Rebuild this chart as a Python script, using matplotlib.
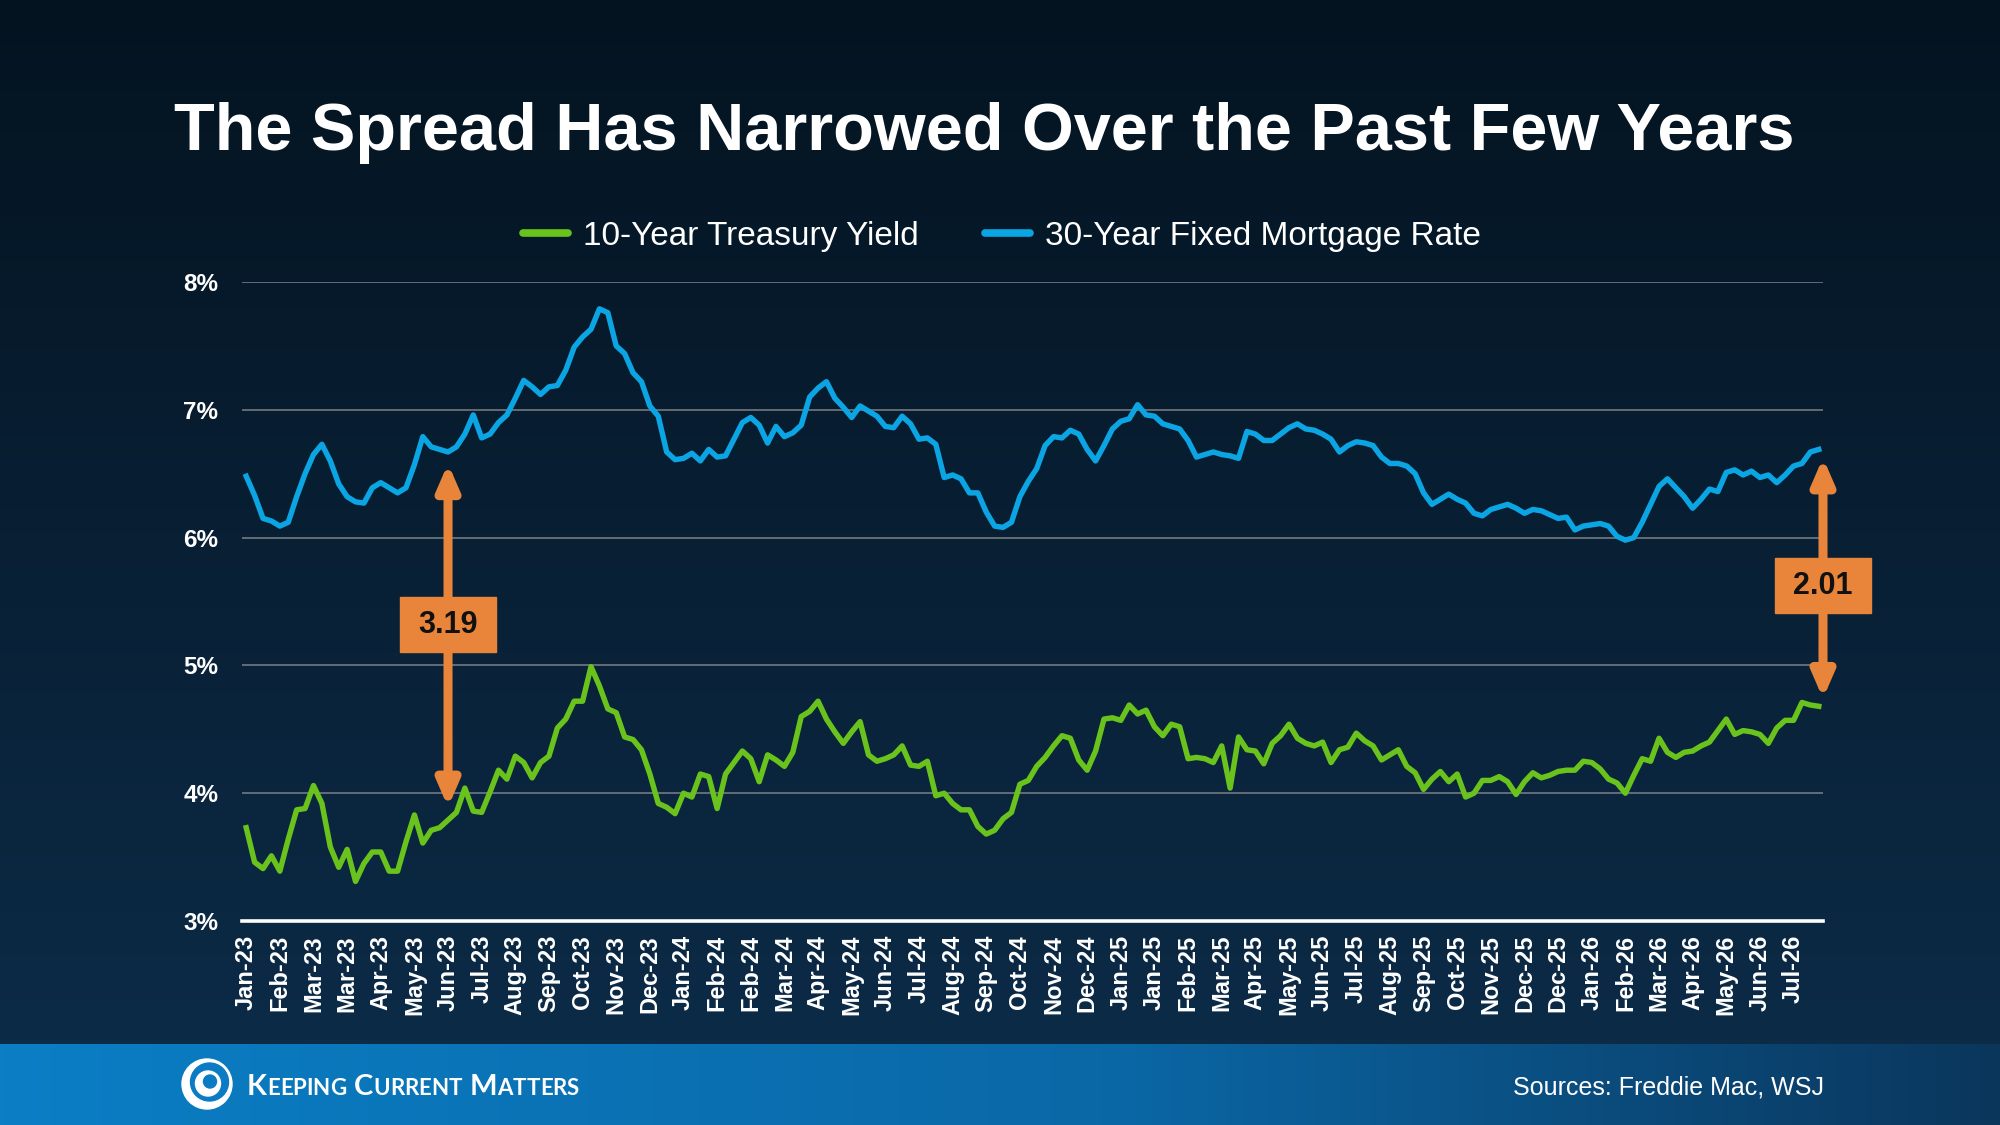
import numpy as np
import matplotlib
matplotlib.use("Agg")
import matplotlib.pyplot as plt
from matplotlib.patches import Rectangle, Circle, FancyArrowPatch
from matplotlib.lines import Line2D

plt.rcParams['font.family'] = ['Liberation Sans', 'DejaVu Sans']

# weekly data, Jan-23 .. Aug-26
month_labels = [
    'Jan-23', 'Feb-23', 'Mar-23', 'Mar-23', 'Apr-23', 'May-23', 'Jun-23', 'Jul-23',
    'Aug-23', 'Sep-23', 'Oct-23', 'Nov-23', 'Dec-23',
    'Jan-24', 'Feb-24', 'Feb-24', 'Mar-24', 'Apr-24', 'May-24', 'Jun-24', 'Jul-24',
    'Aug-24', 'Sep-24', 'Oct-24', 'Nov-24', 'Dec-24',
    'Jan-25', 'Jan-25', 'Feb-25', 'Mar-25', 'Apr-25', 'May-25', 'Jun-25', 'Jul-25',
    'Aug-25', 'Sep-25', 'Oct-25', 'Nov-25', 'Dec-25', 'Dec-25',
    'Jan-26', 'Feb-26', 'Mar-26', 'Apr-26', 'May-26', 'Jun-26', 'Jul-26',
]

mortgage_rate = [
    6.48, 6.33, 6.15, 6.13, 6.09, 6.12, 6.32, 6.50, 6.65, 6.73, 6.60, 6.42, 6.32, 6.28,
    6.27, 6.39, 6.43, 6.39, 6.35, 6.39, 6.57, 6.79, 6.71, 6.69, 6.67, 6.71, 6.81, 6.96,
    6.78, 6.81, 6.90, 6.96, 7.09, 7.23, 7.18, 7.12, 7.18, 7.19, 7.31, 7.49, 7.57, 7.63,
    7.79, 7.76, 7.50, 7.44, 7.29, 7.22, 7.03, 6.95, 6.67, 6.61,
    6.62, 6.66, 6.60, 6.69, 6.63, 6.64, 6.77, 6.90, 6.94, 6.88, 6.74, 6.87, 6.79, 6.82,
    6.88, 7.10, 7.17, 7.22, 7.09, 7.02, 6.94, 7.03, 6.99, 6.95, 6.87, 6.86, 6.95, 6.89,
    6.77, 6.78, 6.73, 6.47, 6.49, 6.46, 6.35, 6.35, 6.20, 6.09, 6.08, 6.12, 6.32, 6.44,
    6.54, 6.72, 6.79, 6.78, 6.84, 6.81, 6.69, 6.60, 6.72, 6.85,
    6.91, 6.93, 7.04, 6.96, 6.95, 6.89, 6.87, 6.85, 6.76, 6.63, 6.65, 6.67, 6.65, 6.64,
    6.62, 6.83, 6.81, 6.76, 6.76, 6.81, 6.86, 6.89, 6.85, 6.84, 6.81, 6.77, 6.67, 6.72,
    6.75, 6.74, 6.72, 6.63, 6.58, 6.58, 6.56, 6.50, 6.35, 6.26, 6.30, 6.34, 6.30, 6.27,
    6.19, 6.17, 6.22, 6.24, 6.26, 6.23, 6.19, 6.22, 6.21, 6.18, 6.15,
    6.16, 6.06, 6.09, 6.10, 6.11, 6.09, 6.01, 5.98, 6.00, 6.12, 6.26, 6.40, 6.46, 6.39,
    6.32, 6.23, 6.30, 6.38, 6.36, 6.51, 6.53, 6.49, 6.52, 6.47, 6.49, 6.43, 6.49, 6.56,
    6.58, 6.67, 6.69,
]

treasury_yield = [
    3.73, 3.46, 3.41, 3.51, 3.39, 3.64, 3.87, 3.88, 4.06, 3.92, 3.58, 3.42, 3.56, 3.31,
    3.45, 3.54, 3.54, 3.39, 3.39, 3.62, 3.83, 3.61, 3.71, 3.73, 3.79, 3.85, 4.04, 3.86,
    3.85, 4.01, 4.18, 4.11, 4.29, 4.24, 4.12, 4.24, 4.29, 4.51, 4.58, 4.72, 4.72, 4.99,
    4.84, 4.66, 4.63, 4.44, 4.42, 4.34, 4.15,
    3.92, 3.89, 3.84, 4.00, 3.97, 4.15, 4.13, 3.88, 4.15, 4.24, 4.33, 4.27, 4.09, 4.30,
    4.26, 4.21, 4.32, 4.60, 4.64, 4.72, 4.58, 4.48, 4.39, 4.48, 4.56, 4.30, 4.25, 4.27,
    4.30, 4.37, 4.22, 4.21, 4.25, 3.98, 4.00, 3.92, 3.87, 3.87, 3.74, 3.68, 3.71, 3.80,
    3.85, 4.07, 4.10, 4.21, 4.28, 4.37,
    4.45, 4.43, 4.26, 4.18, 4.33, 4.58, 4.59, 4.57, 4.69, 4.62, 4.65, 4.52, 4.45, 4.54,
    4.52, 4.27, 4.28, 4.27, 4.24, 4.37, 4.04, 4.44, 4.34, 4.33, 4.23, 4.39, 4.45, 4.54,
    4.43, 4.39, 4.37, 4.40, 4.24, 4.34, 4.36, 4.47, 4.41, 4.37, 4.26, 4.30, 4.34, 4.21,
    4.16, 4.03, 4.11, 4.17, 4.09,
    4.15, 3.97, 4.00, 4.10, 4.10, 4.13, 4.09, 3.99, 4.09, 4.16, 4.12, 4.14, 4.17, 4.18,
    4.18, 4.25, 4.24, 4.19, 4.11, 4.08, 4.00, 4.14, 4.27, 4.25, 4.43, 4.32, 4.28, 4.32,
    4.33, 4.37, 4.40, 4.49, 4.58, 4.46, 4.49, 4.48, 4.46, 4.39, 4.51, 4.57, 4.57, 4.71,
    4.69, 4.68,
]

spread_labels = ['3.19', '2.01']
spread_weeks = [24, len(mortgage_rate) - 1]

BLUE = '#0ba5e4'
GREEN = '#6ac31c'
ORANGE = '#e8853a'

W, H = 2000, 1125
fig = plt.figure(figsize=(20, 11.25), dpi=100)

# background layer in pixel coordinates
bg = fig.add_axes([0, 0, 1, 1], zorder=0)
bg.set_xlim(0, W)
bg.set_ylim(H, 0)
bg.axis('off')

top = np.array([0x04, 0x13, 0x20]) / 255
bot = np.array([0x0c, 0x2b, 0x47]) / 255
t = np.linspace(0, 1, 256)[:, None]
grad = top + (bot - top) * t
bg.imshow(grad[:, None, :], extent=(0, W, 1044, 0), aspect='auto')

# footer band
stops_x = [0.0, 0.55, 1.0]
stops_c = np.array([[0x0b, 0x7e, 0xc5], [0x0a, 0x68, 0xa7], [0x0a, 0x36, 0x5c]]) / 255
fx = np.linspace(0, 1, 512)
foot = np.stack([np.interp(fx, stops_x, stops_c[:, k]) for k in range(3)], axis=-1)
bg.imshow(foot[None, :, :], extent=(0, W, H, 1044), aspect='auto')

# logo swirl
cx, cy = 207, 1084
bg.add_patch(Circle((cx, cy), 25, color='white'))
bg.add_patch(Circle((cx + 2.5, cy - 2), 19, color='#0b7cc3'))
bg.add_patch(Circle((cx + 1, cy - 0.5), 12.5, color='white'))
bg.add_patch(Circle((cx + 3, cy - 2.5), 6.5, color='#0b7cc3'))

renderer = fig.canvas.get_renderer()
lx = 247
for word in ['Keeping', 'Current', 'Matters']:
    for i, ch in enumerate(word):
        txt = bg.text(lx, 1095, ch.upper(), fontsize=21 if i == 0 else 16,
                      color='white', family=['Lato', 'DejaVu Sans'], weight='bold',
                      ha='left', va='baseline')
        lx += txt.get_window_extent(renderer).width
    lx += 8

bg.text(1824, 1095, 'Sources: Freddie Mac, WSJ', fontsize=18, color='white',
        ha='right', va='baseline')

fig.text(984 / W, 1 - 150 / H, 'The Spread Has Narrowed Over the Past Few Years',
         fontsize=48, weight='bold', color='white', ha='center', va='baseline')

# main chart
ax = fig.add_axes([242 / W, 1 - 921 / H, (1823 - 242) / W, (921 - 282) / H], zorder=2)
ax.patch.set_alpha(0)

x = np.arange(len(mortgage_rate))
ax.plot(x, treasury_yield, color=GREEN, lw=3.9, solid_joinstyle='round', zorder=3)
ax.plot(x, mortgage_rate, color=BLUE, lw=3.9, solid_joinstyle='round', zorder=3)

ax.set_xlim(-0.5, len(x) - 0.5)
ax.set_ylim(3, 8)
ax.set_yticks(range(3, 9))
ax.set_yticklabels([f'{v}%' for v in range(3, 9)])
ax.set_xticks(np.arange(0, len(x), 4)[:len(month_labels)])
ax.set_xticklabels(month_labels, rotation=90, ha='center', va='top')
ax.tick_params(axis='both', length=0, colors='white')
ax.tick_params(axis='y', labelsize=17.5, pad=17)
ax.tick_params(axis='x', labelsize=17, pad=10)
for lbl in ax.get_xticklabels() + ax.get_yticklabels():
    lbl.set_fontweight('bold')
ax.grid(axis='y', color='#7c8187', lw=1.1)
ax.set_axisbelow(True)
for s in ['top', 'right', 'left']:
    ax.spines[s].set_visible(False)
ax.spines['bottom'].set_color('white')
ax.spines['bottom'].set_linewidth(2.6)
ax.spines['bottom'].set_zorder(4)

handles = [Line2D([], [], color=GREEN, lw=5.5, solid_capstyle='round'),
           Line2D([], [], color=BLUE, lw=5.5, solid_capstyle='round')]
fig.legend(handles, ['10-Year Treasury Yield', '30-Year Fixed Mortgage Rate'],
           loc='center', bbox_to_anchor=(0.501, 1 - 236 / H), ncol=2, frameon=False,
           fontsize=24, labelcolor='white', handlelength=1.35, handletextpad=0.45,
           columnspacing=2.0)

# spread arrows and boxes
arrow_ends = [(3.89, 6.58), (4.74, 6.625)]
box_mid = [5.32, 5.625]
for wk, lab, (ylo, yhi), ym in zip(spread_weeks, spread_labels, arrow_ends, box_mid):
    xa = wk + 0.5 if wk == len(x) - 1 else wk
    arr = FancyArrowPatch((xa, ylo), (xa, yhi),
                          arrowstyle='<|-|>,head_length=1.5,head_width=0.65',
                          mutation_scale=10, color=ORANGE, lw=6.5, shrinkA=0, shrinkB=0,
                          joinstyle='round', clip_on=False, zorder=5)
    ax.add_patch(arr)
    ax.add_patch(Rectangle((xa - 5.75, ym - 0.215), 11.5, 0.43, color=ORANGE,
                           clip_on=False, zorder=6))
    ax.text(xa, ym, lab, fontsize=22, weight='bold', color='#111111',
            ha='center', va='center', zorder=7)

fig.savefig('out.png', dpi=100)
